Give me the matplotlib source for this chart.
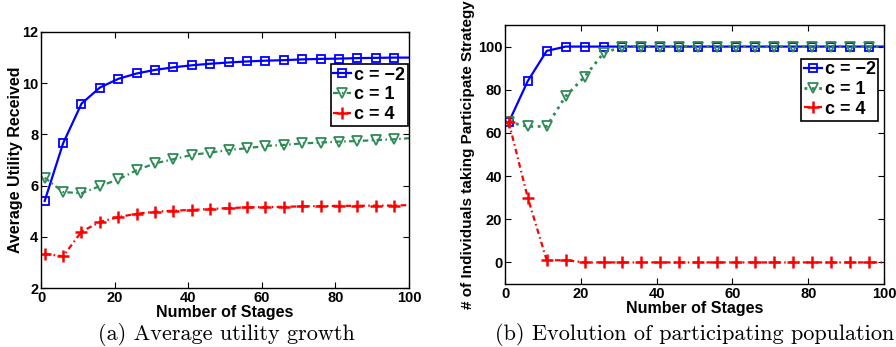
import matplotlib
matplotlib.use("Agg")
import matplotlib.pyplot as plt

stages = [1, 6, 11, 16, 21, 26, 31, 36, 41, 46, 51, 56, 61, 66, 71, 76, 81, 86, 91, 96, 100]

util_cm2 = [5.4, 7.65, 9.2, 9.83, 10.17, 10.38, 10.52, 10.62, 10.7, 10.76, 10.81, 10.85,
            10.88, 10.9, 10.93, 10.95, 10.96, 10.98, 10.99, 11.0, 11.0]
util_c1 = [6.31, 5.75, 5.7, 5.98, 6.24, 6.6, 6.87, 7.03, 7.2, 7.29, 7.39, 7.46, 7.55,
           7.59, 7.65, 7.68, 7.72, 7.74, 7.78, 7.81, 7.85]
util_c4 = [3.33, 3.24, 4.2, 4.58, 4.77, 4.9, 4.98, 5.02, 5.05, 5.09, 5.12, 5.15, 5.16,
           5.17, 5.19, 5.2, 5.21, 5.21, 5.22, 5.22, 5.24]

pop_cm2 = [65, 84, 98, 100, 100, 100, 100, 100, 100, 100, 100, 100, 100, 100, 100,
           100, 100, 100, 100, 100, 100]
pop_c1 = [65, 63, 63, 77, 86, 97, 100, 100, 100, 100, 100, 100, 100, 100, 100,
          100, 100, 100, 100, 100, 100]
pop_c4 = [65, 30, 1, 1, 0, 0, 0, 0, 0, 0, 0, 0, 0, 0, 0, 0, 0, 0, 0, 0, 0]

labels = ["c = \u22122", "c = 1", "c = 4"]
xticks = [0, 20, 40, 60, 80, 100]

BLUE = "#0000FF"
GREEN = "#2E8B57"
RED = "#FF0000"
mk = list(range(len(stages) - 1))
DASHDOT = (0, (2.5, 1.5, 0.7, 1.5))

fig = plt.figure(figsize=(8.96, 3.47), dpi=100)
bold = dict(family="Liberation Sans", weight="bold")

def style(ax):
    ax.tick_params(direction="in", top=True, right=True, length=4, width=0.8,
                   labelsize=10.5, pad=2)
    for lab in ax.get_xticklabels() + ax.get_yticklabels():
        lab.set_fontfamily("Liberation Sans")
        lab.set_fontweight("bold")
    for s in ax.spines.values():
        s.set_linewidth(1.0)

def add_legend(ax, anchor):
    leg = ax.legend(loc="upper right", bbox_to_anchor=anchor,
                    prop=dict(family="Liberation Sans", weight="bold", size=13),
                    frameon=True, fancybox=False, edgecolor="black", handlelength=1.0,
                    handletextpad=0.15, borderpad=0.15, labelspacing=0.15,
                    borderaxespad=0, framealpha=1)
    leg.get_frame().set_linewidth(1.2)

W, H = 896, 347
ax1 = fig.add_axes([41 / W, 1 - 288 / H, (409 - 41) / W, (288 - 32) / H])
ax1.plot(stages, util_cm2, color=BLUE, ls="-", lw=1.6, marker="s", ms=6, mfc="none",
         mew=1.3, markevery=mk, label=labels[0])
ax1.plot(stages, util_c1, color=GREEN, ls=DASHDOT, lw=1.6, marker="v", ms=7, mfc="none",
         mew=1.3, markevery=mk, label=labels[1])
ax1.plot(stages, util_c4, color=RED, ls=DASHDOT, lw=1.6, marker="+", ms=8,
         mew=1.8, markevery=mk, label=labels[2])
ax1.set_xlim(0, 100)
ax1.set_ylim(2, 12)
ax1.set_xticks(xticks)
ax1.set_yticks([2, 4, 6, 8, 10, 12])
ax1.set_xlabel("Number of Stages", fontsize=11.5, labelpad=0, **bold)
ax1.set_ylabel("Average Utility Received", fontsize=11.5, labelpad=-1, **bold)
style(ax1)
add_legend(ax1, (0.997, 0.875))

ax2 = fig.add_axes([505 / W, 1 - 284 / H, (884 - 505) / W, (284 - 25) / H])
ax2.plot(stages, pop_cm2, color=BLUE, ls="-", lw=1.6, marker="s", ms=6, mfc="none",
         mew=1.3, markevery=mk, label=labels[0])
ax2.plot(stages, pop_c1, color=GREEN, ls=":", lw=2.0, marker="v", ms=7, mfc="none",
         mew=1.3, markevery=mk, label=labels[1])
ax2.plot(stages, pop_c4, color=RED, ls=DASHDOT, lw=1.6, marker="+", ms=8,
         mew=1.8, markevery=mk, label=labels[2])
ax2.set_xlim(0, 100)
ax2.set_ylim(-10, 110)
ax2.set_xticks(xticks)
ax2.set_yticks([0, 20, 40, 60, 80, 100])
ax2.set_xlabel("Number of Stages", fontsize=11.5, labelpad=0, **bold)
ax2.set_ylabel("# of Individuals taking Participate Strategy", fontsize=11, labelpad=2, **bold)
style(ax2)
add_legend(ax2, (0.985, 0.87))

fig.text(226 / W, 1 - 335 / H, "(a) Average utility growth", family="cmr10",
         fontsize=16, ha="center", va="center")
fig.text(495 / W, 1 - 335 / H, "(b) Evolution of participating population",
         family="cmr10", fontsize=16, ha="left", va="center")

fig.savefig("out.png", dpi=100)
